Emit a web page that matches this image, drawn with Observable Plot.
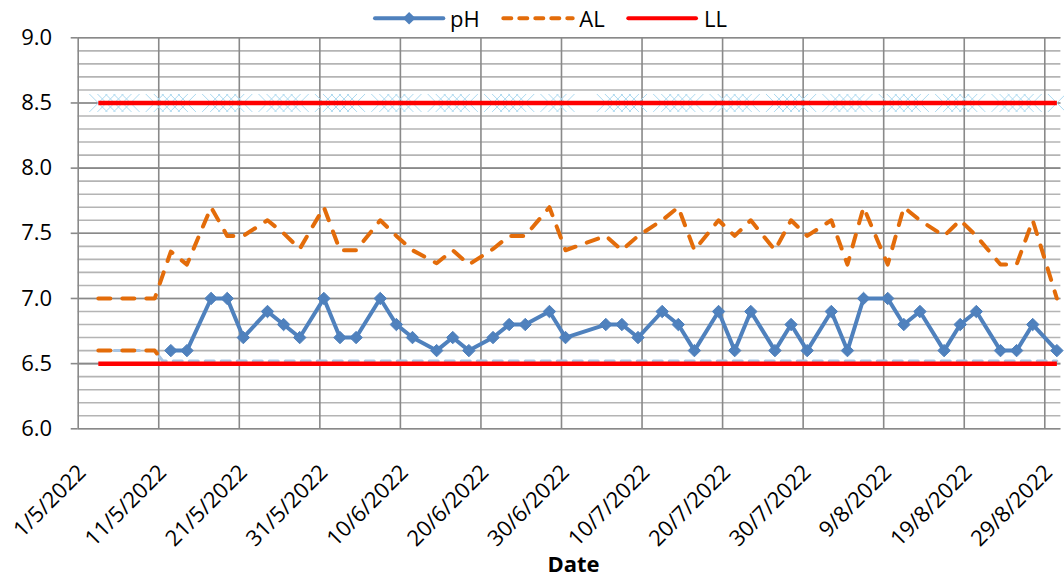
<!DOCTYPE html>
<html>
<head>
<meta charset="utf-8">
<script src="https://cdn.jsdelivr.net/npm/d3@7"></script>
<script src="https://cdn.jsdelivr.net/npm/@observablehq/plot@0.6"></script>
<style>
  html, body { margin: 0; padding: 0; background: #fff; }
  #wrap { position: relative; width: 1064px; height: 578px; overflow: hidden; font-family: "Open Sans", sans-serif; }
  #legend { position: absolute; left: 0; top: 0; display: block; }
  #chart { position: absolute; left: 0; top: 0; }
</style>
</head>
<body>
<div id="wrap">
  <div id="chart"></div>
  <svg id="legend" width="1064" height="37" xmlns="http://www.w3.org/2000/svg"></svg>
</div>
<script>
// ---------------- data ----------------
const xTickLabels = ["1/5/2022","11/5/2022","21/5/2022","31/5/2022","10/6/2022","20/6/2022","30/6/2022","10/7/2022","20/7/2022","30/7/2022","9/8/2022","19/8/2022","29/8/2022"];
const yTickLabels = ["6.0","6.5","7.0","7.5","8.0","8.5","9.0"];
const xDomainLabels = ["1/5/2022","31/8/2022"];

const phDates = ["12/5","14/5","17/5","19/5","21/5","24/5","26/5","28/5","31/5","2/6","4/6","7/6","9/6","11/6","14/6","16/6","18/6","21/6","23/6","25/6","28/6","30/6","5/7","7/7","9/7","12/7","14/7","16/7","19/7","21/7","23/7","26/7","28/7","30/7","2/8","4/8","6/8","9/8","11/8","13/8","16/8","18/8","20/8","23/8","25/8","27/8","30/8"];
const phValues = [6.6,6.6,7.0,7.0,6.7,6.9,6.8,6.7,7.0,6.7,6.7,7.0,6.8,6.7,6.6,6.7,6.6,6.7,6.8,6.8,6.9,6.7,6.8,6.8,6.7,6.9,6.8,6.6,6.9,6.6,6.9,6.6,6.8,6.6,6.9,6.6,7.0,7.0,6.8,6.9,6.6,6.8,6.9,6.6,6.6,6.8,6.6];

const alDates = ["3/5","10/5","12/5","14/5","17/5","19/5","21/5","24/5","26/5","28/5","31/5","2/6","4/6","7/6","9/6","11/6","14/6","16/6","18/6","21/6","23/6","25/6","28/6","30/6","5/7","7/7","9/7","12/7","14/7","16/7","19/7","21/7","23/7","26/7","28/7","30/7","2/8","4/8","6/8","9/8","11/8","13/8","16/8","18/8","20/8","23/8","25/8","27/8","30/8"];
const alValues = [7.0,7.0,7.36,7.26,7.7,7.48,7.48,7.6,7.5,7.38,7.7,7.37,7.37,7.6,7.48,7.37,7.27,7.37,7.26,7.38,7.48,7.48,7.7,7.37,7.48,7.37,7.48,7.6,7.7,7.37,7.6,7.48,7.6,7.37,7.6,7.48,7.6,7.26,7.7,7.26,7.7,7.6,7.48,7.6,7.48,7.26,7.26,7.6,7.0];

const alLowDates = ["3/5","10/5","11/5"];
const alLowValues = [6.6,6.6,6.52];

const refLowDates = ["3/5","10/5","11/5","30/8"];
const refLowValues = [6.6,6.6,6.52,6.52];

const llDates = ["3/5","30/8"];
const llUpperValues = [8.5,8.5];
const llLowerValues = [6.5,6.5];

const refHighDates = ["3/5","4/5","5/5","6/5","7/5","10/5","11/5","12/5","13/5","14/5","17/5","18/5","19/5","20/5","21/5","24/5","25/5","26/5","27/5","28/5","31/5","1/6","2/6","3/6","4/6","7/6","8/6","9/6","10/6","11/6","14/6","15/6","16/6","17/6","18/6","21/6","22/6","23/6","24/6","25/6","28/6","29/6","30/6","5/7","6/7","7/7","8/7","9/7","12/7","13/7","14/7","15/7","16/7","19/7","20/7","21/7","22/7","23/7","26/7","27/7","28/7","29/7","30/7","2/8","3/8","4/8","5/8","6/8","9/8","10/8","11/8","12/8","13/8","16/8","17/8","18/8","19/8","20/8","23/8","24/8","25/8","26/8","27/8","30/8"];
const refHighValue = 8.5;

// ---------------- helpers ----------------
const YEAR = 2022;
function dayStart(s) { const [d, m, y = YEAR] = s.split("/").map(Number); return new Date(Date.UTC(y, m - 1, d)); }
// points sit in the middle of each day band (Excel date axis, between tick marks)
function dayMid(s) { const [d, m, y = YEAR] = s.split("/").map(Number); return new Date(Date.UTC(y, m - 1, d, 12)); }
const zip = (dates, values) => dates.map((s, i) => ({date: dayMid(s), value: values[i]}));

const ph = zip(phDates, phValues);
const al = zip(alDates, alValues);
const alLow = zip(alLowDates, alLowValues);
const refLow = zip(refLowDates, refLowValues);
const llUp = zip(llDates, llUpperValues);
const llLo = zip(llDates, llLowerValues);
const refHigh = refHighDates.map(s => ({date: dayMid(s), value: refHighValue}));

const xTicks = xTickLabels.map(dayStart);
const yTicks = yTickLabels.map(Number);

const BLUE = "#4f81bd", ORANGE = "#e36c0a", RED = "#ff0000";
const GRID_MAJOR = "#898989", GRID_MINOR = "#b4b4b4";

const fmtDate = d => `${d.getUTCDate()}/${d.getUTCMonth() + 1}/${d.getUTCFullYear()}`;

const chart = Plot.plot({
  width: 1064,
  height: 578,
  marginTop: 37.3,
  marginBottom: 149.7,
  marginLeft: 77.7,
  marginRight: 3.6,
  style: {fontFamily: "'Open Sans', sans-serif", fontSize: "22px", color: "#000", background: "#fff"},
  x: {type: "utc", domain: xDomainLabels.map(dayStart)},
  y: {domain: [yTicks[0], yTicks[yTicks.length - 1]]},
  marks: [
    Plot.gridY({interval: 0.1, stroke: GRID_MINOR, strokeOpacity: 1, strokeWidth: 1.6}),
    Plot.gridY({ticks: yTicks, stroke: GRID_MAJOR, strokeOpacity: 1, strokeWidth: 1.6}),
    Plot.gridX({ticks: xTicks, stroke: GRID_MAJOR, strokeOpacity: 1, strokeWidth: 1.6}),
    Plot.axisY({ticks: yTicks, tickFormat: d => d.toFixed(1), tickSize: 7, tickPadding: 19, stroke: GRID_MAJOR, strokeWidth: 1.6, fontSize: 22, label: null}),
    Plot.axisX({ticks: xTicks, tickFormat: fmtDate, tickRotate: -45, tickSize: 0, tickPadding: 40, dx: 4, fontSize: 22, label: null}),
    // hidden reference series (pale markers / pale dashed line)
    Plot.dot(refHigh, {x: "date", y: "value", symbol: "times", r: 8.2, stroke: "#acd9f0", strokeWidth: 1}),
    Plot.line(refLow, {x: "date", y: "value", stroke: "#a9c5e3", strokeWidth: 3, strokeDasharray: "9,7"}),
    Plot.line(alLow, {x: "date", y: "value", stroke: ORANGE, strokeWidth: 4, strokeDasharray: "12,12", strokeLinecap: "round"}),
    // LL
    Plot.line(llUp, {x: "date", y: "value", stroke: RED, strokeWidth: 4.5, strokeLinecap: "butt"}),
    Plot.line(llLo, {x: "date", y: "value", stroke: RED, strokeWidth: 4.5, strokeLinecap: "butt"}),
    // AL
    Plot.line(al, {x: "date", y: "value", stroke: ORANGE, strokeWidth: 4, strokeDasharray: "12,12", strokeLinecap: "round", strokeLinejoin: "round"}),
    // pH
    Plot.line(ph, {x: "date", y: "value", stroke: BLUE, strokeWidth: 4, strokeLinejoin: "round"}),
    Plot.dot(ph, {x: "date", y: "value", symbol: "diamond2", r: 5.6, fill: BLUE, stroke: BLUE, strokeWidth: 1}),
    Plot.text(["Date"], {frameAnchor: "bottom", lineAnchor: "bottom", dy: 143, dx: 4, fontWeight: "bold", fontSize: 22})
  ]
});
document.getElementById("chart").appendChild(chart);

// ---------------- legend ----------------
const legendItems = [
  {label: "pH", x0: 375, x1: 443.3, tx: 450, color: BLUE, dash: null, marker: true},
  {label: "AL", x0: 503.3, x1: 572.7, tx: 579.3, color: ORANGE, dash: "8,8", marker: false},
  {label: "LL", x0: 628.3, x1: 696, tx: 704, color: RED, dash: null, marker: false}
];
const lg = d3.select("#legend");
const LY = 18.3;
for (const it of legendItems) {
  lg.append("line").attr("x1", it.x0).attr("x2", it.x1).attr("y1", LY).attr("y2", LY)
    .attr("stroke", it.color).attr("stroke-width", 4)
    .attr("stroke-linecap", "round")
    .attr("stroke-dasharray", it.dash);
  if (it.marker) {
    const cx = (it.x0 + it.x1) / 2, s = 6.3;
    lg.append("path").attr("d", `M${cx},${LY - s}L${cx + s},${LY}L${cx},${LY + s}L${cx - s},${LY}Z`).attr("fill", it.color);
  }
  lg.append("text").attr("x", it.tx).attr("y", 26.7).attr("font-size", 22)
    .attr("font-family", "'Open Sans', sans-serif").attr("fill", "#000").text(it.label);
}
</script>
</body>
</html>
